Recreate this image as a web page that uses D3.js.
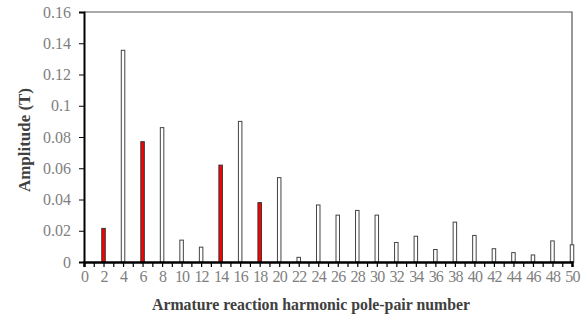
<!DOCTYPE html>
<html><head><meta charset="utf-8">
<script src="https://cdn.jsdelivr.net/npm/d3@7"></script>
<style>body{margin:0;background:#fff}svg{display:block}</style>
</head><body>
<svg id="c" width="586" height="322"></svg>
<script>
const orders = [2,4,6,8,10,12,14,16,18,20,22,24,26,28,30,32,34,36,38,40,42,44,46,48,50];
const amplitudes = [0.0215,0.1355,0.077,0.086,0.014,0.0095,0.062,0.090,0.038,0.054,0.003,0.0365,0.030,0.033,0.030,0.0125,0.0165,0.008,0.0255,0.017,0.0085,0.006,0.0045,0.0135,0.011];
const redOrders = [2,6,14,18];
const yTicks = [0,0.02,0.04,0.06,0.08,0.1,0.12,0.14,0.16];
const xTicks = d3.range(0,51,2);

const svg = d3.select("#c");
const L=84, R=572, T=12, B=262;
const x = d3.scaleLinear().domain([0,50]).range([L,R]);
const y = d3.scaleLinear().domain([0,0.16]).range([B,T]);

svg.append("path").attr("d",`M${L},${T}H${R}V${B}`).attr("fill","none").attr("stroke","#555").attr("stroke-width",1.2);

const bw = 3.5;
svg.selectAll("rect.bar").data(orders.map((o,i)=>({o,v:amplitudes[i]}))).join("rect")
  .attr("x",d=>x(d.o)-bw/2).attr("y",d=>y(d.v)).attr("width",bw).attr("height",d=>B-y(d.v))
  .attr("fill",d=>redOrders.includes(d.o)?"#ff0000":"#fff")
  .attr("stroke",d=>redOrders.includes(d.o)?"#333":"#444").attr("stroke-width",1);

const ya = svg.append("g").attr("transform",`translate(${L},0)`)
  .call(d3.axisLeft(y).tickValues(yTicks).tickFormat(d=>d===0?"0":String(+d.toFixed(2))).tickSize(5).tickPadding(8));
ya.select(".domain").attr("stroke","#000").attr("stroke-width",2);
ya.selectAll(".tick line").attr("stroke","#000");
ya.selectAll("text").attr("fill","#808080").attr("font-family","Liberation Serif").attr("font-size",16);

const xa = svg.append("g").attr("transform",`translate(0,${B})`)
  .call(d3.axisBottom(x).tickValues(d3.range(0,51,1)).tickFormat(d=>xTicks.includes(d)?d:"").tickSize(5).tickPadding(4));
xa.select(".domain").attr("stroke","#000").attr("stroke-width",2.5);
xa.selectAll(".tick line").attr("stroke","#000").attr("stroke-width",1.2);
xa.selectAll("text").attr("fill","#808080").attr("font-family","Liberation Serif").attr("font-size",16).attr("letter-spacing",-0.8);

svg.append("text").attr("x",(152+470)/2).attr("y",310).attr("text-anchor","middle")
  .attr("font-family","Liberation Serif").attr("font-weight","bold").attr("font-size",17).attr("fill","#404040")
  .attr("textLength",318).attr("lengthAdjust","spacingAndGlyphs")
  .text("Armature reaction harmonic pole-pair number");
svg.append("text").attr("transform","translate(30,140) rotate(-90)").attr("text-anchor","middle")
  .attr("font-family","Liberation Serif").attr("font-weight","bold").attr("font-size",17).attr("fill","#404040")
  .attr("textLength",104).attr("lengthAdjust","spacingAndGlyphs")
  .text("Amplitude (T)");
</script>
</body></html>
